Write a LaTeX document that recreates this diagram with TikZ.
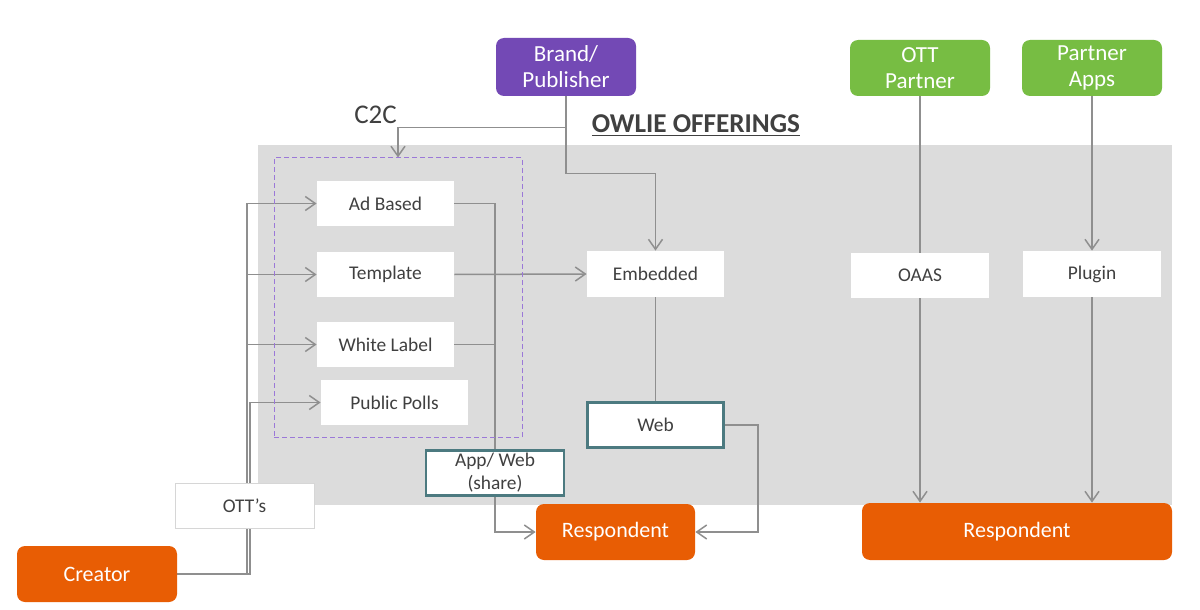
\documentclass[tikz,border=0pt]{standalone}
\usepackage{fontspec}
\setmainfont{Carlito}
\usetikzlibrary{arrows.meta,calc,positioning}
\definecolor{panelgray}{HTML}{DCDCDC}
\definecolor{linegray}{HTML}{8F8F8F}
\definecolor{txtgray}{HTML}{404040}
\definecolor{brandpurple}{HTML}{7349B5}
\definecolor{dashpurple}{HTML}{9B78D8}
\definecolor{partgreen}{HTML}{77BD43}
\definecolor{resporange}{HTML}{E85D04}
\definecolor{tealb}{HTML}{4C7A80}
\definecolor{ottborder}{HTML}{D6D6D6}
\pgfdeclarelayer{background}
\pgfdeclarelayer{edges}
\pgfsetlayers{background,edges,main}
\tikzset{
  whitebox/.style={rectangle, fill=white, draw=none, text=txtgray, font=\fontsize{9.7}{11.5}\selectfont, inner sep=0pt, align=center},
  tealbox/.style={whitebox, draw=tealb, line width=1.3pt},
  colbox/.style={rectangle, rounded corners=4pt, text=white, inner sep=0pt, align=center, font=\fontsize{11.5}{13}\selectfont},
  orangebox/.style={colbox, fill=resporange, font=\fontsize{11}{13}\selectfont},
  conn/.style={draw=linegray, line width=0.75pt},
  arr/.style={conn, -{Straight Barb[length=5pt,width=7pt,line width=0.75pt]}},
}
\begin{document}
\begin{tikzpicture}[x=0.5pt,y=-0.5pt]
\useasboundingbox (0,0) rectangle (1200,610);

% panel
\begin{pgfonlayer}{background}
\fill[white] (0,0) rectangle (1200,610);
\node[fill=panelgray, minimum width=457pt, minimum height=180pt, inner sep=0pt] (panel) at (715,325) {};
\end{pgfonlayer}

% titles
\node[text=txtgray, font=\fontsize{13.6}{15}\bfseries\selectfont] (title) at (696,126) {\underline{OWLIE OFFERINGS}};
\node[text=txtgray, font=\fontsize{13.5}{15}\selectfont] (c2c) at (375.5,115) {C2C};

% dashed frame
\node[draw=dashpurple, dashed, line width=0.5pt, dash pattern=on 2.5pt off 1.5pt, minimum width=124pt, minimum height=139.5pt, inner sep=0pt] (frame) at (398,297.5) {};

% top sources
\node[colbox, fill=brandpurple, minimum width=70pt, minimum height=29pt] (brand) at (566,67) {Brand/\\Publisher};
\node[colbox, fill=partgreen, minimum width=70pt, minimum height=28pt] (ottp) at (920,68) {OTT\\Partner};
\node[colbox, fill=partgreen, minimum width=70pt, minimum height=28pt] (papps) at (1092,68) {Partner\\Apps};

% offerings
\node[whitebox, minimum width=68.5pt, minimum height=22.5pt] (adb) at (385.5,203.5) {Ad Based};
\node[whitebox, minimum width=68.5pt, minimum height=22.5pt] (tmpl) at (385.5,274.5) {Template};
\node[whitebox, minimum width=68.5pt, minimum height=22.5pt] (wl) at (385.5,344.5) {White Label};
\node[whitebox, minimum width=73.5pt, minimum height=22.5pt] (pp) at (394.5,402.5) {Public Polls};
\node[whitebox, minimum width=68.5pt, minimum height=23pt] (emb) at (655.5,274) {Embedded};
\node[whitebox, minimum width=69pt, minimum height=22.5pt] (oaas) at (920,275.5) {OAAS};
\node[whitebox, minimum width=69pt, minimum height=23pt] (plug) at (1092,274) {Plugin};
\node[tealbox, minimum width=68pt, minimum height=22.5pt] (web) at (655.5,425) {Web};
\node[tealbox, minimum width=69pt, minimum height=22.5pt] (app) at (495,473) {App/ Web\\(share)};
\node[whitebox, draw=ottborder, line width=0.5pt, minimum width=69.5pt, minimum height=22.5pt] (ott) at (244.5,505.5) {OTT’s};

% sinks
\node[orangebox, minimum width=79.5pt, minimum height=28pt] (resp1) at (615.5,532) {Respondent};
\node[orangebox, minimum width=155pt, minimum height=28.5pt] (resp2) at (1017,531.5) {Respondent};
\node[orangebox, minimum width=80pt, minimum height=28pt] (creator) at (97,574) {Creator};

\coordinate (spineA) at (247,203.5);
\coordinate (spineB) at (250,402.5);

\begin{pgfonlayer}{edges}
% brand
\draw[arr] (brand.south) -- ++(0,31) -| (frame.north);
\draw[arr] (brand.south) -- ++(0,77) -| (emb.north);
% partners
\draw[conn] (ottp.south) -- (oaas.north);
\draw[arr] (papps.south) -- (plug.north);
\draw[arr] (oaas.south) -- (oaas.south |- resp2.north);
\draw[arr] (plug.south) -- (plug.south |- resp2.north);
% template to embedded
\draw[arr] (tmpl.east) -- (emb.west);
% ad based / white label to respondent
\draw[conn] (adb.east) -| (app.north);
\draw[conn] (wl.east) -- (wl.east -| app.north);
\draw[arr] (app.south) |- (resp1.west);
% embedded to web to respondent
\draw[conn] (emb.south) -- (web.north);
\draw[arr] (web.east) -- ++(33,0) |- (resp1.east);
% creator
\draw[arr] (creator.east) -| (spineA) -- (adb.west);
\draw[arr] (spineA |- tmpl.west) -- (tmpl.west);
\draw[arr] (spineA |- wl.west) -- (wl.west);
\draw[arr] (creator.east) -| (spineB) -- (pp.west);
\end{pgfonlayer}
\end{tikzpicture}
\end{document}
